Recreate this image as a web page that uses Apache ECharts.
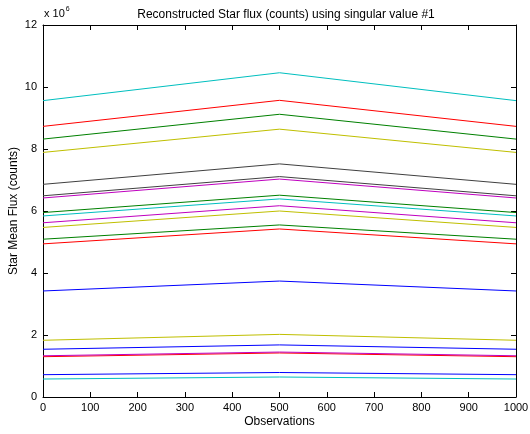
<!DOCTYPE html>
<html>
<head>
<meta charset="utf-8">
<script src="https://cdn.jsdelivr.net/npm/echarts@6/dist/echarts.min.js"></script>
<style>html,body{margin:0;padding:0;background:#fff}#c{width:530px;height:434px}</style>
</head>
<body>
<div id="c"></div>
<script>
// Observations (x positions of the three samples)
const observations = [0, 500, 1000];
// Star mean flux (counts) at each observation, one entry per star
const fluxAt0    = [3.42e6, 8.32e6, 8.73e6, 9.56e6, 6.42e6, 7.89e6, 6.86e6,
                    1.54e6, 5.95e6, 4.94e6, 5.84e6, 5.62e6, 5.47e6, 6.49e6,
                    0.72e6, 5.09e6, 1.30e6, 0.58e6, 1.33e6, 1.83e6];
const fluxAt500  = [3.74e6, 9.12e6, 9.57e6, 10.46e6, 7.03e6, 8.64e6, 7.52e6,
                    1.68e6, 6.51e6, 5.42e6, 6.39e6, 6.17e6, 6.00e6, 7.11e6,
                    0.79e6, 5.55e6, 1.42e6, 0.645e6, 1.45e6, 2.02e6];
const fluxAt1000 = [3.42e6, 8.32e6, 8.73e6, 9.56e6, 6.42e6, 7.89e6, 6.86e6,
                    1.54e6, 5.95e6, 4.94e6, 5.84e6, 5.62e6, 5.47e6, 6.49e6,
                    0.72e6, 5.09e6, 1.30e6, 0.58e6, 1.33e6, 1.83e6];
const colorOrder = ['#0000ff', '#008000', '#ff0000', '#00bfbf', '#bf00bf', '#bfbf00', '#404040'];

const FONT = 'Liberation Sans, Arial, Helvetica, sans-serif';
const series = fluxAt0.map((v, i) => ({
  type: 'line',
  xAxisIndex: 0,
  yAxisIndex: 0,
  symbol: 'none',
  silent: true,
  lineStyle: { width: 1, color: colorOrder[i % colorOrder.length] },
  data: observations.map((x, k) => [x, [fluxAt0[i], fluxAt500[i], fluxAt1000[i]][k]])
}));

const baseX = {
  type: 'value', min: 0, max: 1000, interval: 100,
  axisLine: { show: true, onZero: false, lineStyle: { color: '#000', width: 1 } },
  axisTick: { show: true, inside: true, length: 5, lineStyle: { color: '#000' } },
  splitLine: { show: false }
};
const baseY = {
  type: 'value', min: 0, max: 12e6, interval: 2e6,
  axisLine: { show: true, onZero: false, lineStyle: { color: '#000', width: 1 } },
  axisTick: { show: true, inside: true, length: 5, lineStyle: { color: '#000' } },
  splitLine: { show: false }
};

const chart = echarts.init(document.getElementById('c'), null, { renderer: 'canvas' });
chart.setOption({
  animation: false,
  backgroundColor: '#fff',
  title: {
    text: 'Reconstructed Star flux (counts) using singular value #1',
    left: 281, top: 4, textAlign: 'center',
    textStyle: { fontFamily: FONT, fontSize: 12, fontWeight: 'normal', color: '#000' }
  },
  grid: { left: 43, right: 14, top: 25, bottom: 37, containLabel: false, outerBoundsMode: 'none' },
  xAxis: [
    Object.assign({}, baseX, {
      position: 'bottom',
      name: 'Observations', nameLocation: 'middle', nameGap: 19, nameMoveOverlap: false,
      nameTextStyle: { fontFamily: FONT, fontSize: 12, color: '#000' },
      axisLabel: { show: true, fontFamily: FONT, fontSize: 11, color: '#000', margin: 5,
        formatter: v => String(v) }
    }),
    Object.assign({}, baseX, { position: 'top', axisLabel: { show: false } })
  ],
  yAxis: [
    Object.assign({}, baseY, {
      position: 'left',
      name: 'Star Mean Flux (counts)', nameLocation: 'middle', nameGap: 23, nameMoveOverlap: false,
      nameTextStyle: { fontFamily: FONT, fontSize: 12, color: '#000' },
      axisLabel: {
        show: true, fontFamily: FONT, fontSize: 11, color: '#000', margin: 6,
        formatter: v => String(v / 1e6)
      }
    }),
    Object.assign({}, baseY, { position: 'right', axisLabel: { show: false } })
  ],
  graphic: [{
    type: 'text', left: 44, top: 6,
    style: {
      text: '{b|x 10}{s|6}',
      rich: {
        b: { fontFamily: FONT, fontSize: 11, fill: '#000', verticalAlign: 'bottom' },
        s: { fontFamily: FONT, fontSize: 7, fill: '#000', verticalAlign: 'top', padding: [0, 0, 6, 1] }
      }
    }
  }],
  series: series
});
</script>
</body>
</html>
